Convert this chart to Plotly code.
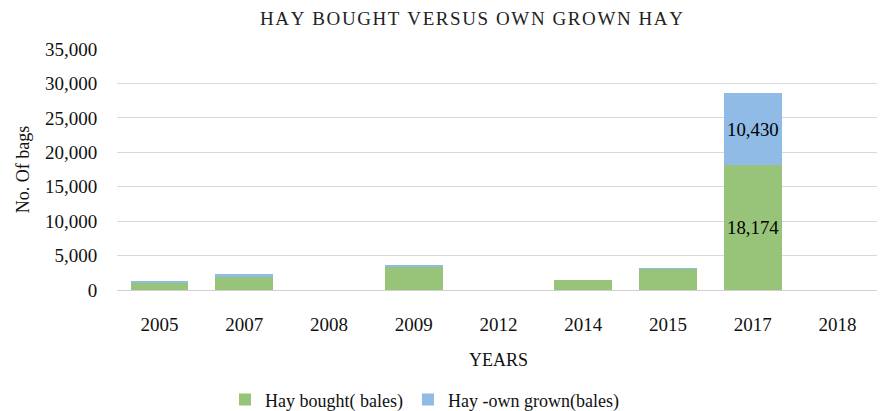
import plotly.graph_objects as go

years = ["2005", "2007", "2008", "2009", "2012", "2014", "2015", "2017", "2018"]
hay_bought = [1150, 1930, 0, 3340, 0, 1450, 3050, 18174, 0]
hay_own = [150, 390, 0, 150, 0, 0, 100, 10430, 0]
label_bought = ["", "", "", "", "", "", "", "18,174", ""]
label_own = ["", "", "", "", "", "", "", "10,430", ""]

green = "#98c47a"
blue = "#8fbbe6"
font_family = "Liberation Serif"
title_text = "\u200a".join("HAY BOUGHT VERSUS OWN GROWN HAY")

fig = go.Figure()
fig.add_trace(go.Bar(
    x=years, y=hay_bought, name="Hay bought( bales)",
    marker=dict(color=green, line=dict(width=0)),
    text=label_bought, textposition="inside", insidetextanchor="middle", textangle=0,
    textfont=dict(size=20, color="black", family=font_family),
))
fig.add_trace(go.Bar(
    x=years, y=hay_own, name="Hay -own grown(bales)",
    marker=dict(color=blue, line=dict(width=0)),
    text=label_own, textposition="inside", insidetextanchor="middle", textangle=0,
    textfont=dict(size=20, color="black", family=font_family),
))

fig.update_layout(
    barmode="stack",
    bargap=0.32,
    width=877, height=403,
    margin=dict(l=109, r=5, t=41, b=121, autoexpand=False),
    paper_bgcolor="white", plot_bgcolor="white",
    font=dict(family=font_family, size=18, color="#111"),
    title=dict(text=title_text,
               x=0.5285, xanchor="center", y=0.975, yanchor="middle",
               font=dict(size=19, family=font_family, color="#222")),
    uniformtext=dict(mode=None),
    legend=dict(orientation="h", x=0.403, xanchor="center", y=-0.456, yanchor="middle",
                font=dict(size=18, family=font_family), itemwidth=30, traceorder="normal"),
    xaxis=dict(title=dict(text="YEARS", font=dict(size=18), standoff=19),
               tickfont=dict(size=19), showline=True, linecolor="#d0d0d0", linewidth=1,
               ticks="outside", ticklen=17, tickcolor="rgba(0,0,0,0)",
               type="category", automargin=False),
    yaxis=dict(title=dict(text="No. Of bags", font=dict(size=18), standoff=10),
               range=[0, 35000], dtick=5000, tickformat=",", tickfont=dict(size=19),
               gridcolor="#d9d9d9", gridwidth=1, zeroline=False, ticks="outside",
               ticklen=15, tickcolor="rgba(0,0,0,0)", automargin=False),
)

fig.write_html("out.html")
